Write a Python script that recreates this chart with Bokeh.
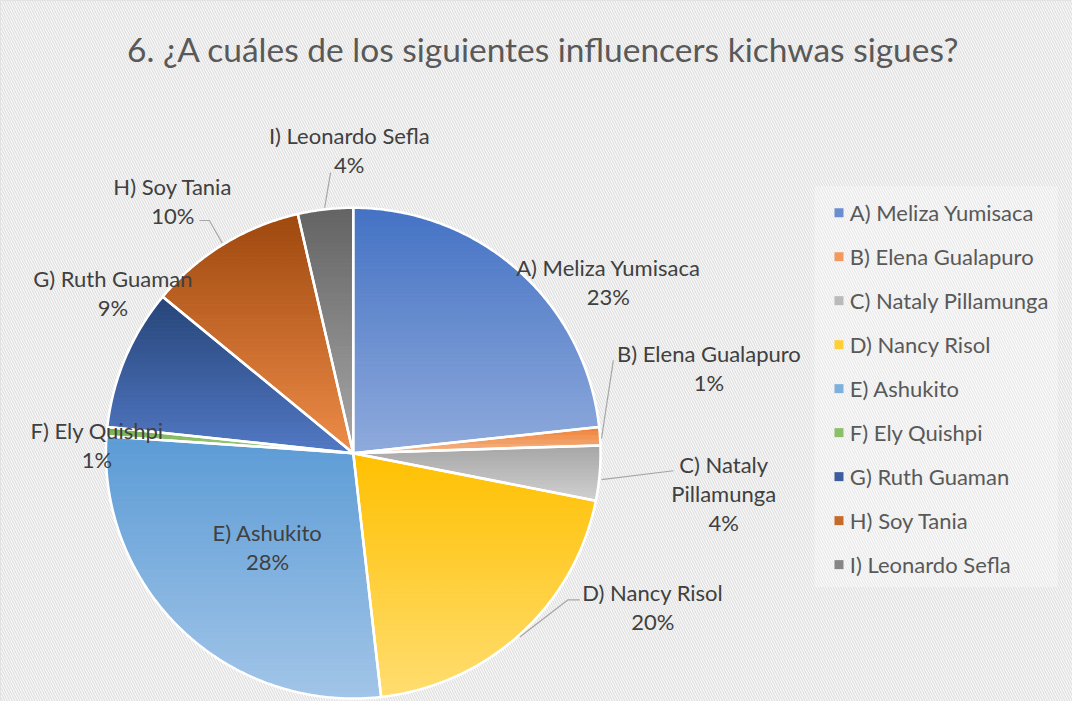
import numpy as np
from bokeh.plotting import figure
from bokeh.models import Range1d, BoxAnnotation, ColumnDataSource
from bokeh.core.properties import value
from bokeh.embed import file_html
from bokeh.resources import INLINE

# ---------------- data ----------------
title_text = "6. ¿A cuáles de los siguientes influencers kichwas sigues?"
categories = ["A) Meliza Yumisaca", "B) Elena Gualapuro", "C) Nataly Pillamunga",
              "D) Nancy Risol", "E) Ashukito", "F) Ely Quishpi", "G) Ruth Guaman",
              "H) Soy Tania", "I) Leonardo Sefla"]
values = [23.3, 1.2, 3.6, 20.1, 27.9, 0.6, 9.3, 10.4, 3.6]

# ---------------- styles ----------------
top_colors = ["#4472C4", "#ED7D31", "#A5A5A5", "#FFC000", "#5B9BD5",
              "#70AD47", "#264478", "#9E480E", "#636363"]
bottom_colors = ["#8FAADC", "#F6B88C", "#D0D0D0", "#FFDD70", "#A2C5E8",
                 "#A9D18E", "#5279C4", "#EE8C48", "#A8A8A8"]

# layout (reference-pixel coordinates, 1088 x 717 space)
W, H = 1072, 701
REF_W, REF_H = 1088, 717
CX, CY, R = 358, 463, 251
label_split = [["A) Meliza Yumisaca"], ["B) Elena Gualapuro"], ["C) Nataly", "Pillamunga"],
               ["D) Nancy Risol"], ["E) Ashukito"], ["F) Ely Quishpi"], ["G) Ruth Guaman"],
               ["H) Soy Tania"], ["I) Leonardo Sefla"]]
label_anchor = [(617, 273), (719, 361), (734, 475), (662, 606), (271, 544),
                (98, 440), (114, 284), (175, 190), (354, 138)]
LINE_GAP = 29.5
leaders = [
    ([610, 622], [448, 368]),
    ([610, 683], [490, 481]),
    ([527, 576, 588], [651, 613, 613]),
    ([202, 212, 225], [225, 225, 248]),
    ([335, 329], [176, 212]),
]
LEG_X, LEG_Y0, LEG_DY = 851, 217, 45
FONT = "Lato"


def hex2rgb(h):
    h = h.lstrip("#")
    return np.array([int(h[i:i + 2], 16) for i in (0, 2, 4)], dtype=float)


def rgb2hex(c):
    c = np.clip(np.round(c), 0, 255).astype(int)
    return "#%02x%02x%02x" % tuple(c)


def clip_half(poly, y0, keep_above):
    out = []
    n = len(poly)
    for i in range(n):
        p_, q = poly[i], poly[(i + 1) % n]
        pin = p_[1] >= y0 if keep_above else p_[1] <= y0
        qin = q[1] >= y0 if keep_above else q[1] <= y0
        if pin:
            out.append(p_)
        if pin != qin:
            t = (y0 - p_[1]) / (q[1] - p_[1])
            out.append((p_[0] + t * (q[0] - p_[0]), y0))
    return out


p = figure(width=W, height=H, output_backend="svg", toolbar_location=None,
           x_range=Range1d(0, REF_W), y_range=Range1d(REF_H, 0),
           min_border=0, background_fill_color="white",
           border_fill_color="white", outline_line_color="#D9D9D9")
p.axis.visible = False
p.grid.visible = False

# hatched chart background
p.add_layout(BoxAnnotation(fill_color="white", fill_alpha=1.0,
                           hatch_pattern="left_diagonal_line", hatch_color="#E2E2E2",
                           hatch_scale=5, hatch_weight=1.5, line_alpha=0,
                           level="underlay"))

# ---------------- pie slices with vertical gradients ----------------
total = float(sum(values))
fracs = [v / total for v in values]
angles = np.cumsum([0.0] + fracs) * 2 * np.pi
band_xs, band_ys, band_cols = [], [], []
out_xs, out_ys = [], []
for i, f in enumerate(fracs):
    a0 = np.pi / 2 - angles[i]
    a1 = np.pi / 2 - angles[i + 1]
    n = max(3, int(abs(a0 - a1) / np.radians(0.5)) + 1)
    th = np.linspace(a0, a1, n)
    px = [CX] + list(CX + R * np.cos(th))
    py = [CY] + list(CY - R * np.sin(th))
    poly = list(zip(px, py))
    out_xs.append(px)
    out_ys.append(py)
    ymin, ymax = min(py), max(py)
    nb = max(2, int((ymax - ymin) / 4))
    edges = np.linspace(ymin, ymax, nb + 1)
    c0, c1 = hex2rgb(top_colors[i]), hex2rgb(bottom_colors[i])
    for b in range(nb):
        sub = clip_half(poly, edges[b], True)
        if len(sub) < 3:
            continue
        sub = clip_half(sub, edges[b + 1], False)
        if len(sub) < 3:
            continue
        t = (b + 0.5) / nb
        band_xs.append([s[0] for s in sub])
        band_ys.append([s[1] for s in sub])
        band_cols.append(rgb2hex(c0 + (c1 - c0) * t))

p.patches(xs="xs", ys="ys", fill_color="c", line_color="c", line_width=1,
          source=ColumnDataSource(dict(xs=band_xs, ys=band_ys, c=band_cols)))
p.patches(xs=out_xs, ys=out_ys, fill_alpha=0, line_color="white", line_width=2.5,
          line_join="round")

# ---------------- leader lines ----------------
for lx, ly_ in leaders:
    p.line(lx, ly_, line_color="#A6A6A6", line_width=1.2)

# ---------------- data labels ----------------
tx, ty, tt = [], [], []
for i, lines in enumerate(label_split):
    x0, y0 = label_anchor[i]
    pct = "%d%%" % int(round(fracs[i] * 100))
    for k, s in enumerate(lines + [pct]):
        tx.append(x0)
        ty.append(y0 + k * LINE_GAP)
        tt.append(s)
p.text(x=tx, y=ty, text=tt, text_align="center", text_baseline="middle",
       text_font=value(FONT), text_font_size="22px", text_color="#404040")

# ---------------- title ----------------
p.text(x=[551], y=[50], text=[title_text], text_align="center", text_baseline="middle",
       text_font=value(FONT), text_font_size="33.5px", text_color="#595959")

# ---------------- legend ----------------
p.add_layout(BoxAnnotation(left=826, right=1073, top=190, bottom=600,
                           fill_color="white", fill_alpha=0.3, line_alpha=0,
                           level="underlay"))
leg_y = [LEG_Y0 + LEG_DY * i for i in range(len(categories))]
mid_cols = [rgb2hex((hex2rgb(a) + hex2rgb(b)) / 2) for a, b in zip(top_colors, bottom_colors)]
p.scatter(x=[LEG_X] * len(categories), y=leg_y, marker="square", size=9,
          fill_color=mid_cols, line_color=None)
p.text(x=[LEG_X + 11] * len(categories), y=leg_y, text=categories, text_align="left",
       text_baseline="middle", text_font=value(FONT), text_font_size="22px",
       text_color="#595959")

open("out.html", "w").write(file_html(p, INLINE))
